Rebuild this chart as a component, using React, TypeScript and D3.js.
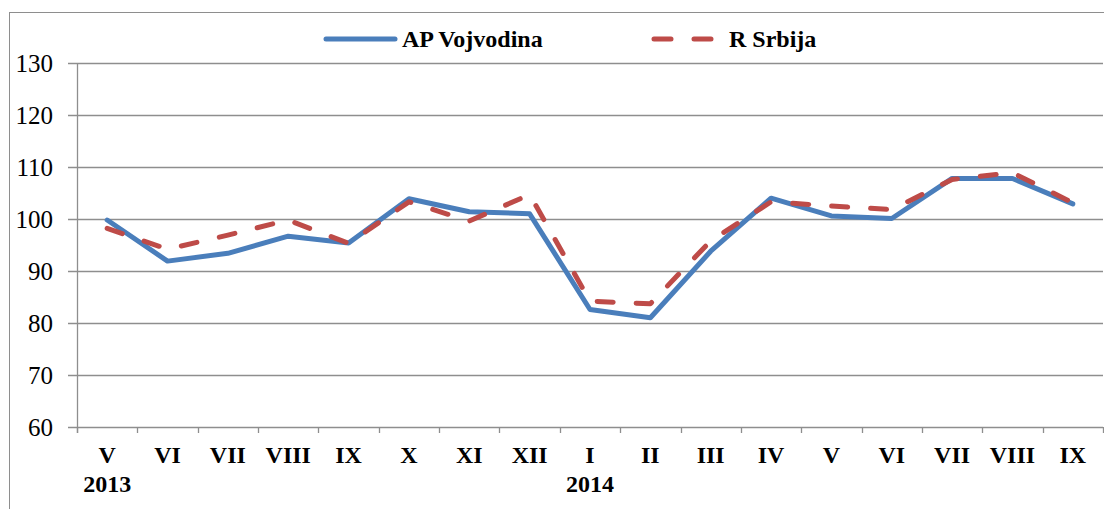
import React from 'react';
import * as d3 from 'd3';

// months, May 2013 – Sep 2014
const months = ['V', 'VI', 'VII', 'VIII', 'IX', 'X', 'XI', 'XII', 'I', 'II', 'III', 'IV', 'V', 'VI', 'VII', 'VIII', 'IX'];
const yearLabels = [{ index: 0, text: '2013' }, { index: 8, text: '2014' }];
const vojvodina = [99.8, 91.9, 93.4, 96.7, 95.4, 103.9, 101.4, 101.0, 82.6, 81.0, 93.8, 104.0, 100.6, 100.1, 107.8, 107.8, 102.9];
const srbija = [98.2, 94.2, 96.9, 99.8, 95.3, 103.3, 99.6, 104.7, 84.2, 83.7, 95.8, 103.3, 102.5, 101.8, 107.6, 108.9, 103.1];
const yTicks = [60, 70, 80, 90, 100, 110, 120, 130];

const W = 1112;
const H = 513;
const plot = { left: 77, right: 1103, top: 63, bottom: 427 };
const FONT = 'Liberation Serif';
const BLUE = '#4A7EBB';
const RED = '#BE4B48';
const GRID = '#8E8E8E';

export default function App() {
  const x = d3.scaleBand<number>().domain(d3.range(months.length)).range([plot.left, plot.right]);
  const y = d3.scaleLinear().domain([60, 130]).range([plot.bottom, plot.top]);
  const cx = (i: number) => (x(i) as number) + x.bandwidth() / 2;

  const line = d3.line<number>().x((d, i) => cx(i)).y(d => y(d));
  const boundaries = d3.range(months.length + 1).map(i => plot.left + i * x.bandwidth());

  return (
    <div style={{ margin: -8 }}>
      <svg width={W} height={H}>
        {/* outer frame, cut off at right and bottom */}
        <rect x={9.5} y={12.5} width={1120} height={520} fill="none" stroke={GRID} strokeWidth={1} />

        {/* gridlines + y ticks */}
        {yTicks.map(t => (
          <g key={t}>
            <line x1={plot.left - 9} x2={plot.right} y1={Math.round(y(t)) + 0.5} y2={Math.round(y(t)) + 0.5} stroke={GRID} strokeWidth={1.3} />
            <text x={53} y={y(t) + 9} textAnchor="end" fontFamily={FONT} fontSize={25} fill="#000">{t}</text>
          </g>
        ))}

        {/* y axis line */}
        <line x1={plot.left + 0.5} x2={plot.left + 0.5} y1={plot.top} y2={plot.bottom + 6} stroke={GRID} strokeWidth={1.3} />

        {/* x ticks at category boundaries */}
        {boundaries.map((b, i) => (
          <line key={i} x1={Math.round(b) + 0.5} x2={Math.round(b) + 0.5} y1={plot.bottom} y2={plot.bottom + 6} stroke={GRID} strokeWidth={1.3} />
        ))}

        {/* x labels */}
        {months.map((m, i) => (
          <text key={i} x={cx(i)} y={463} textAnchor="middle" fontFamily={FONT} fontWeight="bold" fontSize={24} fill="#000">{m}</text>
        ))}
        {yearLabels.map(d => (
          <text key={d.text} x={cx(d.index)} y={492} textAnchor="middle" fontFamily={FONT} fontWeight="bold" fontSize={24} fill="#000">{d.text}</text>
        ))}

        {/* series */}
        <path d={line(vojvodina) || ''} fill="none" stroke={BLUE} strokeWidth={5} strokeLinejoin="round" strokeLinecap="round" />
        <path d={line(srbija) || ''} fill="none" stroke={RED} strokeWidth={5} strokeLinejoin="round" strokeLinecap="round" strokeDasharray="16 23" />

        {/* legend */}
        <line x1={326} x2={395} y1={39} y2={39} stroke={BLUE} strokeWidth={5} strokeLinecap="round" />
        <text x={402} y={47} fontFamily={FONT} fontWeight="bold" fontSize={24} fill="#000">AP Vojvodina</text>
        <line x1={654} x2={720} y1={39} y2={39} stroke={RED} strokeWidth={5} strokeLinecap="round" strokeDasharray="17 23" />
        <text x={729} y={47} fontFamily={FONT} fontWeight="bold" fontSize={24} fill="#000">R Srbija</text>
      </svg>
    </div>
  );
}
